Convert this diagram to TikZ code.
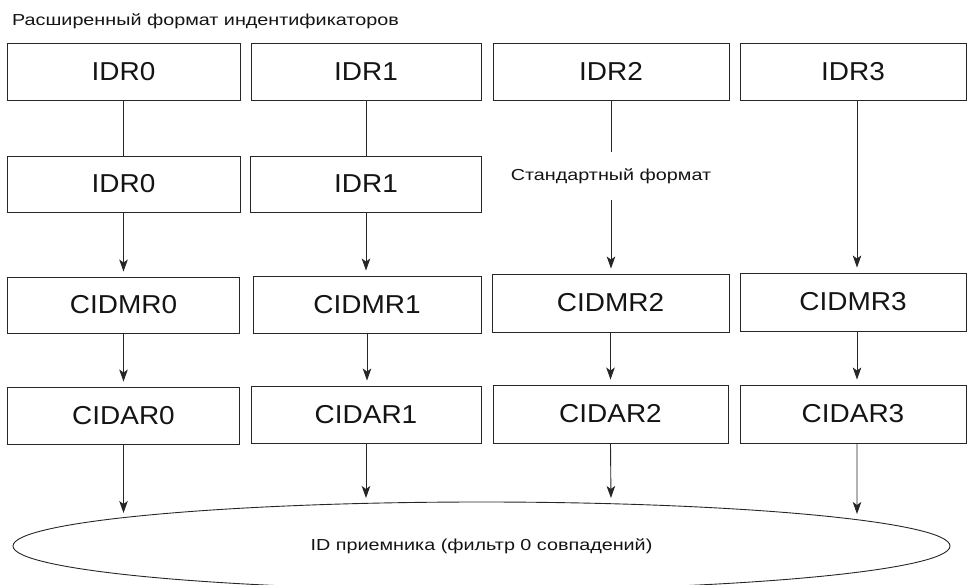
\documentclass[tikz,border=0pt]{standalone}
\usepackage{fontspec}
\setmainfont{Liberation Sans}
\newfontfamily\widesans[FakeStretch=1.24]{Liberation Sans}
\newfontfamily\boxsans[FakeStretch=1.08]{Liberation Sans}
\usetikzlibrary{arrows.meta,shapes.geometric}
\definecolor{ink}{HTML}{262626}
\definecolor{txt}{HTML}{141414}
\begin{document}
\begin{tikzpicture}[x=1bp,y=-1bp,
  regbox/.style={draw=ink,line width=0.9pt,inner sep=0pt,minimum height=57bp,
    text=txt,font=\boxsans\fontsize{26}{30}\selectfont},
  small/.style={text=txt,font=\widesans\fontsize{16}{19}\selectfont,inner sep=0pt},
  link/.style={draw=ink,line width=0.9pt},
  arr/.style={link,-{Stealth[length=12bp,width=8.5bp,inset=3bp]},shorten >=5bp}]
\useasboundingbox (0,0) rectangle (967,585);

% heading
\node[small,anchor=base west] (title) at (12,26) {Расширенный формат индентификаторов};

% identifier registers, extended format
\node[regbox,minimum width=233bp] (idr0) at (123.5,71.5) {IDR0};
\node[regbox,minimum width=230bp] (idr1) at (366,71.5) {IDR1};
\node[regbox,minimum width=236bp] (idr2) at (611,71.5) {IDR2};
\node[regbox,minimum width=226bp] (idr3) at (853,71.5) {IDR3};

% identifier registers, second row
\node[regbox,minimum width=233bp,minimum height=56bp] (idrb0) at (123.5,184) {IDR0};
\node[regbox,minimum width=231bp,minimum height=56bp] (idrb1) at (366,184) {IDR1};

% standard format label
\node[small,minimum height=48bp] (std) at (611,176) {Стандартный формат};

% mask registers
\node[regbox,minimum width=232bp,minimum height=56bp] (cidmr0) at (123.5,305) {CIDMR0};
\node[regbox,minimum width=228bp] (cidmr1) at (367,304.5) {CIDMR1};
\node[regbox,minimum width=237bp,minimum height=58bp] (cidmr2) at (610.5,303) {CIDMR2};
\node[regbox,minimum width=226bp,minimum height=58bp] (cidmr3) at (853,302) {CIDMR3};

% acceptance registers
\node[regbox,minimum width=232bp] (cidar0) at (123.5,415.5) {CIDAR0};
\node[regbox,minimum width=230bp] (cidar1) at (366,414.5) {CIDAR1};
\node[regbox,minimum width=235bp,minimum height=58bp] (cidar2) at (610.5,414) {CIDAR2};
\node[regbox,minimum width=226bp,minimum height=58bp] (cidar3) at (853,414) {CIDAR3};

% receiver ID
\node[ellipse,draw=ink,line width=0.9pt,minimum width=937bp,minimum height=88bp,inner sep=0pt,
  small] (rx) at (481.5,546) {ID приемника (фильтр 0 совпадений)};

% arrow ends on the ellipse
\coordinate (e0) at (123.5,518);
\coordinate (e1) at (366,503);
\coordinate (e2) at (611,503);
\coordinate (e3) at (857,519);

% column 0
\draw[link] (idr0.south) -- (idrb0.north);
\draw[arr] (idrb0.south) -- (cidmr0.north);
\draw[arr] (cidmr0.south) -- (cidar0.north);
\draw[arr] (cidar0.south) -- (e0);

% column 1
\draw[link] (idr1.south) -- (idrb1.north);
\draw[arr] (idrb1.south) -- (idrb1.south |- cidmr1.north);
\draw[arr] (cidmr1.south) -- (cidmr1.south |- cidar1.north);
\draw[arr] (cidar1.south) -- (e1);

% column 2
\draw[link] (idr2.south) -- (std.north);
\draw[arr] (std.south) -- (std.south |- cidmr2.north);
\draw[arr] (cidmr2.south) -- (cidmr2.south |- cidar2.north);
\draw[arr] (cidar2.south) -- (e2);

% column 3
\draw[arr] ([xshift=4bp]idr3.south) -- ([xshift=4bp]cidmr3.north);
\draw[arr] ([xshift=4bp]cidmr3.south) -- ([xshift=4bp]cidar3.north);
\draw[arr] ([xshift=4bp]cidar3.south) -- (e3);
\end{tikzpicture}
\end{document}
